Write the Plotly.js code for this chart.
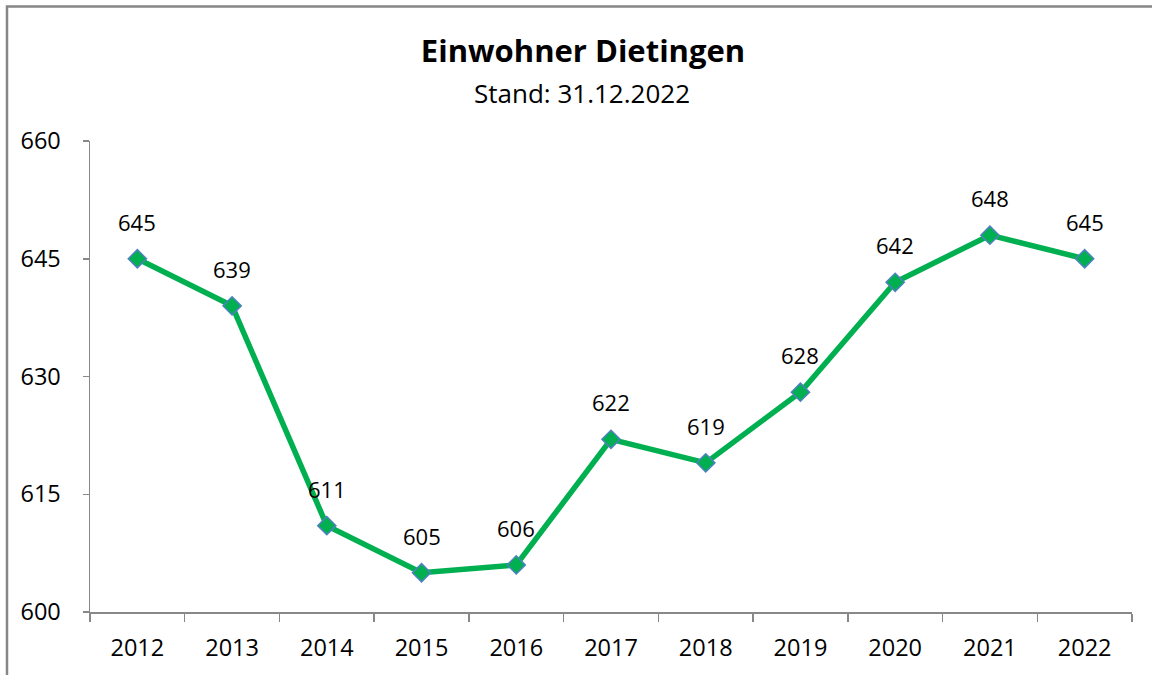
<!DOCTYPE html>
<html>
<head>
<meta charset="utf-8">
<script src="https://cdn.plot.ly/plotly-3.0.1.min.js"></script>
<style>
html,body{margin:0;padding:0;background:#fff;}
#chart{width:1152px;height:675px;}
</style>
</head>
<body>
<div id="chart"></div>
<script>
const years = ["2012","2013","2014","2015","2016","2017","2018","2019","2020","2021","2022"];
const residents = [645, 639, 611, 605, 606, 622, 619, 628, 642, 648, 645];
const yTicks = [600, 615, 630, 645, 660];
const titleText = "Einwohner Dietingen";
const subtitleText = "Stand: 31.12.2022";

const FONT = "'Open Sans', 'Noto Sans', sans-serif";

const trace = {
  x: years,
  y: residents,
  type: "scatter",
  mode: "lines+markers",
  line: {color: "#00B050", width: 5.5},
  marker: {symbol: "diamond", size: 14, color: "#00B050", line: {color: "#4F81BD", width: 1.5}},
  hoverinfo: "x+y",
  showlegend: false
};

// category axis: annotation x uses category index
const labelAnnotations = years.map((yr, i) => ({
  x: i, y: residents[i], xref: "x", yref: "y",
  text: String(residents[i]), showarrow: false,
  xanchor: "center", yanchor: "middle",
  yshift: 37, font: {family: FONT, size: 22, color: "#000"}
}));

const layout = {
  width: 1152, height: 675,
  margin: {l: 90, r: 20, t: 141, b: 63},
  paper_bgcolor: "#fff", plot_bgcolor: "#fff",
  font: {family: FONT, color: "#000"},
  title: {
    text: "<b>" + titleText + "</b>",
    xref: "container", x: 583/1152, xanchor: "center",
    yref: "container", y: 1 - 51/675, yanchor: "middle",
    font: {family: FONT, size: 31, color: "#000"}
  },
  xaxis: {
    type: "category",
    range: [-0.5, 10.5],
    showline: true, linecolor: "#888888", linewidth: 1.5,
    ticks: "outside", tickson: "boundaries", ticklen: 8, tickwidth: 1.5, tickcolor: "#888888",
    ticklabelstandoff: 14,
    showgrid: false, zeroline: false,
    tickfont: {family: FONT, size: 23.5, color: "#000"}
  },
  yaxis: {
    range: [600, 660],
    tickvals: yTicks,
    ticktext: yTicks.map(String),
    showline: true, linecolor: "#888888", linewidth: 1.5,
    ticks: "outside", ticklen: 6, tickwidth: 1.5, tickcolor: "#888888",
    ticklabelstandoff: 17,
    showgrid: false, zeroline: false,
    tickfont: {family: FONT, size: 23.5, color: "#000"}
  },
  annotations: [
    {
      text: subtitleText, showarrow: false,
      xref: "paper", yref: "paper",
      x: (582 - 90) / 1042, y: (612 - 93) / 471,
      xanchor: "center", yanchor: "middle",
      font: {family: FONT, size: 26, color: "#000"}
    }
  ].concat(labelAnnotations),
  shapes: [
    {
      type: "rect", xref: "paper", yref: "paper",
      x0: (7 - 90) / 1042, x1: (1165 - 90) / 1042,
      y0: (612 - 690) / 471, y1: (612 - 6.5) / 471,
      line: {color: "#868686", width: 2.5}, fillcolor: "rgba(0,0,0,0)",
      layer: "below"
    }
  ]
};

Plotly.newPlot("chart", [trace], layout, {displayModeBar: false, staticPlot: true});
</script>
</body>
</html>
